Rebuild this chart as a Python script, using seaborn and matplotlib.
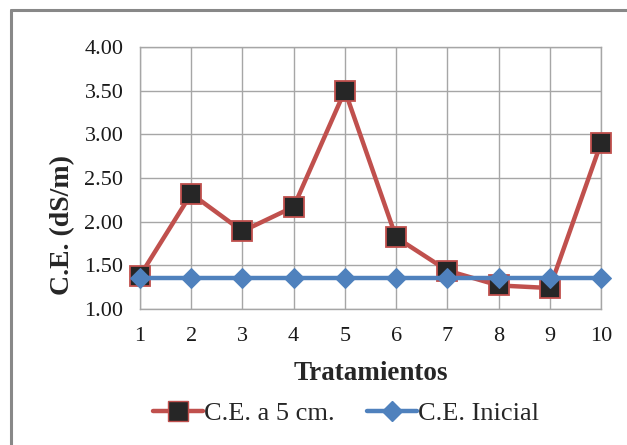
import matplotlib
matplotlib.use("Agg")
import matplotlib.pyplot as plt
import seaborn as sns
import pandas as pd
from matplotlib.lines import Line2D

tratamientos = [1, 2, 3, 4, 5, 6, 7, 8, 9, 10]
ce_5cm = [1.38, 2.32, 1.89, 2.17, 3.50, 1.82, 1.44, 1.27, 1.24, 2.90]
ce_inicial = [1.36] * 10
y_ticks = [1.00, 1.50, 2.00, 2.50, 3.00, 3.50, 4.00]

df = pd.DataFrame({
    "Tratamientos": tratamientos * 2,
    "CE": ce_5cm + ce_inicial,
    "Serie": ["C.E. a 5 cm."] * 10 + ["C.E. Inicial"] * 10,
})

sns.set_style("white")
plt.rcParams["font.family"] = ["Liberation Serif", "DejaVu Serif"]

red = "#C0504D"
blue = "#4F81BD"

fig = plt.figure(figsize=(6.27, 4.45), dpi=100)
ax = fig.add_axes([140 / 627, 1 - 309 / 445, 461 / 627, 262 / 445])

sns.lineplot(data=df[df.Serie == "C.E. a 5 cm."], x="Tratamientos", y="CE",
             ax=ax, color=red, linewidth=3.2, marker="s", markersize=14,
             markerfacecolor="#262626", markeredgecolor=red, markeredgewidth=1.3,
             clip_on=False, zorder=3, legend=False)
sns.lineplot(data=df[df.Serie == "C.E. Inicial"], x="Tratamientos", y="CE",
             ax=ax, color=blue, linewidth=3.2, marker="D", markersize=10,
             markerfacecolor=blue, markeredgecolor=blue,
             clip_on=False, zorder=4, legend=False)

ax.set_xlim(1, 10)
ax.set_ylim(1, 4)
ax.set_xticks(tratamientos)
ax.set_yticks(y_ticks)
ax.set_yticklabels([f"{v:.2f}" for v in y_ticks])
ax.grid(True, color="#a6a6a6", linewidth=1)
ax.set_axisbelow(True)
for s in ax.spines.values():
    s.set_color("#a6a6a6")
    s.set_linewidth(1)
ax.tick_params(axis="both", length=0, labelsize=16, colors="#1a1a1a")
ax.tick_params(axis="x", pad=13)
ax.tick_params(axis="y", pad=12)

ax.set_xlabel("Tratamientos", fontsize=19.5, fontweight="bold")
ax.xaxis.set_label_coords(0.5, -(373 - 309) / 262, transform=ax.transAxes)
ax.xaxis.label.set_va("center")
ax.set_ylabel("C.E. (dS/m)", fontsize=20, fontweight="bold")
ax.yaxis.set_label_coords((63 - 140) / 461, (309 - 225) / 262)
ax.yaxis.label.set_va("center")

handles = [
    Line2D([], [], color=red, linewidth=3.2, marker="s", markersize=14,
           markerfacecolor="#262626", markeredgecolor=red),
    Line2D([], [], color=blue, linewidth=3.2, marker="D", markersize=10,
           markerfacecolor=blue, markeredgecolor=blue),
]
fig.legend(handles, ["C.E. a 5 cm.", "C.E. Inicial"], loc="center",
           bbox_to_anchor=(346 / 627, 1 - 413 / 445), ncol=2, frameon=False,
           fontsize=19, handlelength=1.9, handletextpad=0.05, columnspacing=1.2)

# outer chart frame
fig.add_artist(Line2D([11 / 627, 1.0], [1 - 10 / 445] * 2, color="#888888",
                      linewidth=2.2, transform=fig.transFigure))
fig.add_artist(Line2D([11 / 627] * 2, [0.0, 1 - 10 / 445], color="#888888",
                      linewidth=2.2, transform=fig.transFigure))

fig.savefig("out.png", dpi=100, facecolor="white")
